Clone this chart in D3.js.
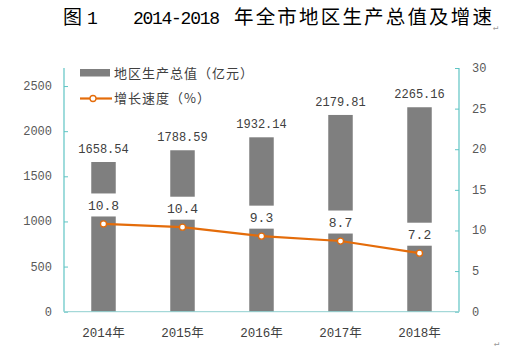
<!DOCTYPE html>
<html lang="zh">
  <head>
    <meta charset="utf-8">
    <script src="https://d3js.org/d3.v7.min.js"></script>
    <style>
      body { margin: 0; background: #fff; }
      text { font-family: "Liberation Mono", "Noto Sans CJK SC", monospace; }
      .cjk { font-family: "Noto Sans CJK SC", sans-serif; }
    </style>
    <title>2014-2018 年全市地区生产总值及增速</title>
  </head>
  <body>
    <script>
    // data
    var years = ["2014年", "2015年", "2016年", "2017年", "2018年"];
    var gdp = [1658.54, 1788.59, 1932.14, 2179.81, 2265.16];
    var growth = [10.8, 10.4, 9.3, 8.7, 7.2];
    var leftTicks = [0, 500, 1000, 1500, 2000, 2500];
    var rightTicks = [0, 5, 10, 15, 20, 25, 30];

    var w = 506, h = 353;
    var svg = d3.select("body").append("svg")
                .attr("width", w)
                .attr("height", h);

    var x = d3.scaleBand().domain(years).range([64, 459]).padding(0);
    var yL = d3.scaleLinear().domain([0, 2700]).range([311.7, 68]);
    var yR = d3.scaleLinear().domain([0, 30]).range([311.7, 68]);
    var barW = x.bandwidth() * 0.31;
    function cx(d) { return x(d) + x.bandwidth() / 2; }

    // title
    var title = svg.append("text").attr("y", 24).attr("fill", "#000");
    title.append("tspan").attr("class", "cjk").attr("x", 63).attr("font-size", 19).text("图");
    title.append("tspan").attr("x", 87).attr("font-size", 18).text("1");
    title.append("tspan").attr("x", 133).attr("font-size", 18)
         .attr("textLength", 87).text("2014-2018");
    title.append("tspan").attr("class", "cjk").attr("x", 234).attr("font-size", 19.5)
         .attr("textLength", 258).text("年全市地区生产总值及增速");
    svg.append("text").attr("x", 493).attr("y", 30).attr("font-size", 9)
       .attr("fill", "#999").text("↵");
    svg.append("text").attr("x", 494).attr("y", 346).attr("font-size", 9)
       .attr("fill", "#999").text("↵");

    // bars
    svg.append("g").selectAll("rect")
       .data(gdp).enter().append("rect")
       .attr("x", function(d, i) { return cx(years[i]) - barW / 2; })
       .attr("y", function(d) { return yL(d); })
       .attr("width", barW)
       .attr("height", function(d) { return yL(0) - yL(d); })
       .attr("fill", "#7f7f7f");

    // bar labels
    svg.append("g").selectAll("text")
       .data(gdp).enter().append("text")
       .attr("x", function(d, i) { return cx(years[i]); })
       .attr("y", function(d) { return yL(d) - 9; })
       .attr("text-anchor", "middle")
       .attr("font-size", 12)
       .attr("fill", "#404040")
       .text(function(d) { return d.toFixed(2); });

    // axes
    var axL = svg.append("g").attr("transform", "translate(64,0)")
       .call(d3.axisRight(yL).tickValues(leftTicks).tickSize(4).tickFormat(""));
    axL.select(".domain").remove();
    axL.selectAll("line").attr("stroke", "#5ec4c4");
    svg.append("line").attr("x1", 64).attr("x2", 64)
       .attr("y1", yL.range()[1]).attr("y2", yL(0))
       .attr("stroke", "#5ec4c4").attr("stroke-width", 1.2);

    var axR = svg.append("g").attr("transform", "translate(459,0)")
       .call(d3.axisLeft(yR).tickValues(rightTicks).tickSize(4).tickFormat(""));
    axR.select(".domain").remove();
    axR.selectAll("line").attr("stroke", "#5ec4c4");
    svg.append("line").attr("x1", 459).attr("x2", 459)
       .attr("y1", yR(30)).attr("y2", yR(0))
       .attr("stroke", "#5ec4c4").attr("stroke-width", 1.2);

    svg.append("line").attr("x1", 64).attr("x2", 459)
       .attr("y1", yL(0)).attr("y2", yL(0))
       .attr("stroke", "#8fcfcf").attr("stroke-width", 1);

    svg.append("g").selectAll("text")
       .data(leftTicks).enter().append("text")
       .attr("x", 52).attr("y", function(d) { return yL(d) + 4; })
       .attr("text-anchor", "end").attr("font-size", 12).attr("fill", "#595959")
       .text(function(d) { return d; });

    svg.append("g").selectAll("text")
       .data(rightTicks).enter().append("text")
       .attr("x", 472).attr("y", function(d) { return yR(d) + 4; })
       .attr("font-size", 12).attr("fill", "#595959")
       .text(function(d) { return d; });

    svg.append("g").selectAll("text")
       .data(years).enter().append("text")
       .attr("x", function(d) { return cx(d); })
       .attr("y", 337)
       .attr("text-anchor", "middle").attr("font-size", 12.5).attr("fill", "#404040")
       .text(function(d) { return d; });

    // growth label boxes (white, cover the bars)
    svg.append("g").selectAll("rect")
       .data(growth).enter().append("rect")
       .attr("x", function(d, i) { return cx(years[i]) - 18; })
       .attr("y", function(d) { return yR(d) - 30.5; })
       .attr("width", 36).attr("height", 23)
       .attr("fill", "#fff");

    svg.append("g").selectAll("text")
       .data(growth).enter().append("text")
       .attr("x", function(d, i) { return cx(years[i]); })
       .attr("y", function(d) { return yR(d) - 14; })
       .attr("text-anchor", "middle").attr("font-size", 13).attr("fill", "#404040")
       .text(function(d) { return d; });

    // growth line
    var line = d3.line()
       .x(function(d, i) { return cx(years[i]); })
       .y(function(d) { return yR(d); });
    svg.append("path").datum(growth)
       .attr("d", line).attr("fill", "none")
       .attr("stroke", "#e46c0a").attr("stroke-width", 2.2);
    svg.append("g").selectAll("circle")
       .data(growth).enter().append("circle")
       .attr("cx", function(d, i) { return cx(years[i]); })
       .attr("cy", function(d) { return yR(d); })
       .attr("r", 3)
       .attr("fill", "#fff").attr("stroke", "#e46c0a").attr("stroke-width", 1.3);

    // legend
    var lg = svg.append("g");
    lg.append("rect").attr("x", 80).attr("y", 69).attr("width", 30).attr("height", 7.5)
      .attr("fill", "#7f7f7f");
    lg.append("text").attr("class", "cjk").attr("x", 114).attr("y", 77.5)
      .attr("font-size", 13).attr("fill", "#404040")
      .attr("letter-spacing", 1).text("地区生产总值（亿元）");
    lg.append("line").attr("x1", 80).attr("x2", 112).attr("y1", 98.5).attr("y2", 98.5)
      .attr("stroke", "#e46c0a").attr("stroke-width", 2.2);
    lg.append("circle").attr("cx", 93).attr("cy", 98.5).attr("r", 3)
      .attr("fill", "#fff").attr("stroke", "#e46c0a").attr("stroke-width", 1.3);
    lg.append("text").attr("class", "cjk").attr("x", 114).attr("y", 103)
      .attr("font-size", 13).attr("fill", "#404040")
      .attr("letter-spacing", 1).text("增长速度（%）");
    </script>
  </body>
</html>
